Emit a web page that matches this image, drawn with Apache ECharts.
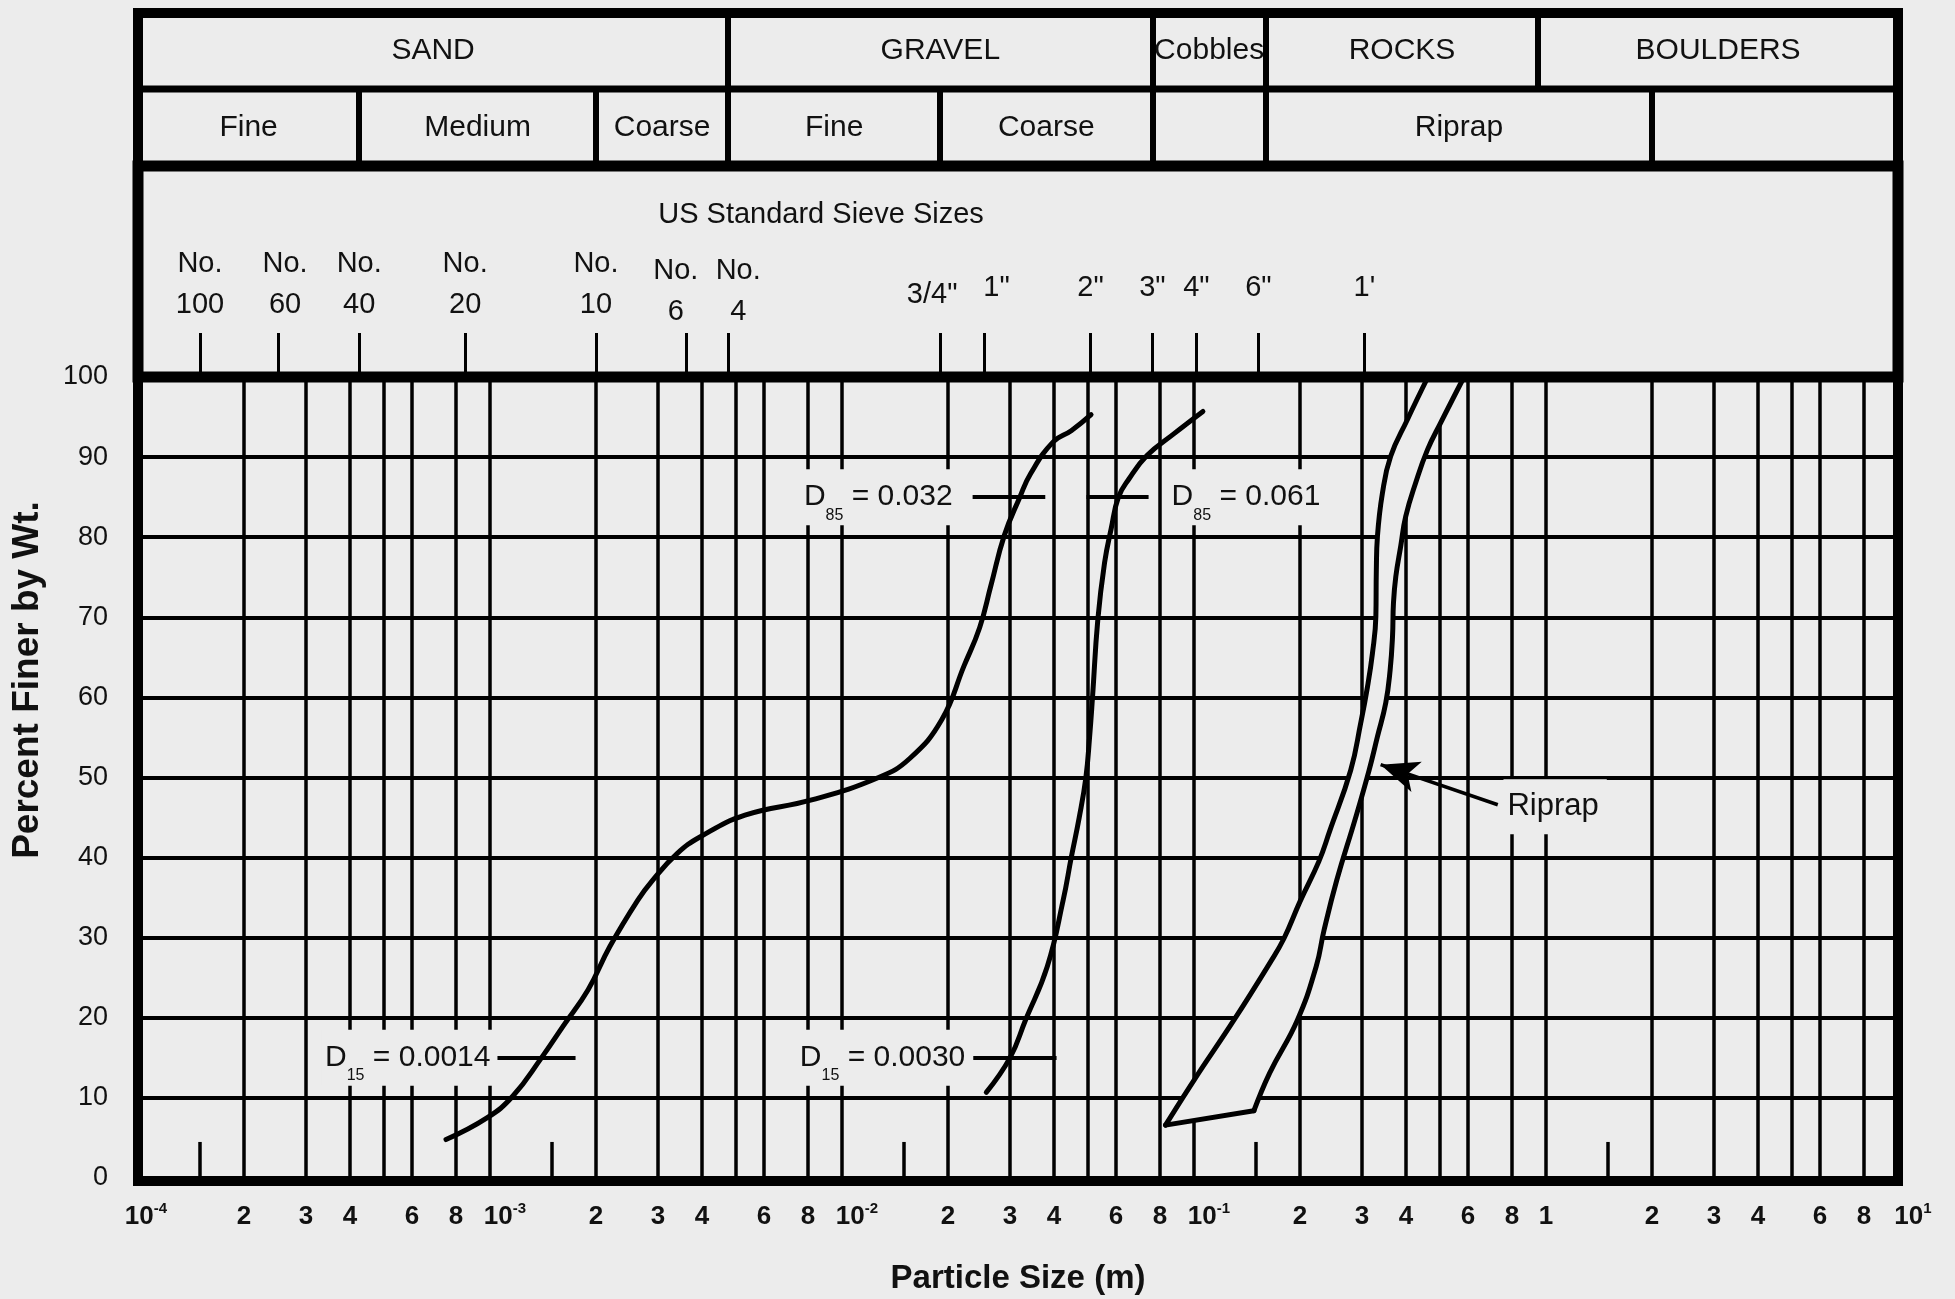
<!DOCTYPE html>
<html>
<head>
<meta charset="utf-8">
<title>Gradation Curves</title>
<script src="https://cdn.jsdelivr.net/npm/echarts@6/dist/echarts.min.js"></script>
<style>
  html, body { margin: 0; padding: 0; background: #ececec; }
  #chart { width: 1955px; height: 1299px; }
</style>
</head>
<body>
<div id="chart"></div>
<script>
// ---------- classification header (sizes in metres) ----------
const soilClasses      = ['SAND', 'GRAVEL', 'Cobbles', 'ROCKS', 'BOULDERS'];
const soilClassBounds  = [1e-4, 0.00475, 0.0762, 0.16, 0.95, 10];
const subClasses       = ['Fine', 'Medium', 'Coarse', 'Fine', 'Coarse', '', 'Riprap', ''];
const subClassBounds   = [1e-4, 0.000425, 0.002, 0.00475, 0.019, 0.0762, 0.16, 2.0, 10];

// ---------- US standard sieve openings ----------
const sieveSizes = [0.00015, 0.00025, 0.000425, 0.00085, 0.002, 0.0036, 0.00475,
                    0.019, 0.0254, 0.0508, 0.0762, 0.1016, 0.1524, 0.3048];
const sieveNames = ['No.\n100', 'No.\n60', 'No.\n40', 'No.\n20', 'No.\n10', 'No.\n6', 'No.\n4',
                    '3/4"', '1"', '2"', '3"', '4"', '6"', "1'"];

// ---------- particle-size axis rules and labels ----------
const xGridValues = [
  2e-4, 3e-4, 4e-4, 5e-4, 6e-4, 8e-4, 1e-3,
  2e-3, 3e-3, 4e-3, 5e-3, 6e-3, 8e-3, 1e-2,
  2e-2, 3e-2, 4e-2, 5e-2, 6e-2, 8e-2, 1e-1,
  0.2, 0.3, 0.4, 0.5, 0.6, 0.8, 1,
  2, 3, 4, 5, 6, 8
];
const xShortTicks = [1.5e-4, 1.5e-3, 1.5e-2, 0.15, 1.5];
const xTickValues = [
  1e-4, 2e-4, 3e-4, 4e-4, 6e-4, 8e-4,
  1e-3, 2e-3, 3e-3, 4e-3, 6e-3, 8e-3,
  1e-2, 2e-2, 3e-2, 4e-2, 6e-2, 8e-2,
  1e-1, 0.2, 0.3, 0.4, 0.6, 0.8,
  1, 2, 3, 4, 6, 8, 10
];
const xTickLabels = [
  '10^-4', '2', '3', '4', '6', '8',
  '10^-3', '2', '3', '4', '6', '8',
  '10^-2', '2', '3', '4', '6', '8',
  '10^-1', '2', '3', '4', '6', '8',
  '1', '2', '3', '4', '6', '8', '10^1'
];

// ---------- gradation curves (size in m, percent finer by weight) ----------
const soilASize = [0.00075, 0.00098, 0.00116, 0.0014, 0.00161, 0.0019, 0.00219, 0.00263, 0.0029,
                   0.0034, 0.00396, 0.0053, 0.0082, 0.0127, 0.0156, 0.0192, 0.0222, 0.0246,
                   0.0265, 0.0289, 0.032, 0.0343, 0.0398, 0.0448, 0.051];
const soilAPct  = [4.8, 7.5, 10.2, 15, 18.9, 23.5, 28.9, 34.7, 37.2,
                   40.5, 42.6, 45.3, 47.2, 50.0, 52.4, 57.2, 63.9, 68.7,
                   74.0, 80.2, 85, 87.9, 91.9, 93.3, 95.3];

const soilBSize = [0.0257, 0.030, 0.0332, 0.0383, 0.0425, 0.0448, 0.0472, 0.0493, 0.0505, 0.0515,
                   0.0533, 0.0557, 0.0582, 0.061, 0.0654, 0.0735, 0.0876, 0.106];
const soilBPct  = [10.7, 15, 19.7, 26.4, 34.7, 40, 45, 50, 55, 60.1,
                   69.7, 76.8, 81.1, 85, 87.3, 90.2, 92.9, 95.7];

// riprap band: fine limit listed top to bottom, coarse limit bottom to top
const riprapFineSize = [0.462, 0.404, 0.362, 0.343, 0.332, 0.3296, 0.3286, 0.3213, 0.311, 0.2976,
                        0.2787, 0.2429, 0.2262, 0.200, 0.1801, 0.164, 0.1298, 0.09995, 0.083];
const riprapFinePct  = [100, 94.7, 90.1, 85.5, 80.1, 75.9, 70.1, 65.5, 61.3, 56.8,
                        50.9, 43.3, 39.5, 34.5, 29.9, 26.8, 19.7, 12.2, 6.6];
const riprapCoarseSize = [0.148, 0.164, 0.1966, 0.2224, 0.234, 0.2545, 0.287, 0.3143, 0.332,
                          0.3505, 0.3607, 0.3664, 0.3687, 0.3744, 0.3867, 0.3995, 0.4264, 0.4604,
                          0.5023, 0.585];
const riprapCoarsePct  = [8.4, 13.1, 19.7, 26.4, 30.9, 37.2, 44.8, 50.9, 55.1,
                          59.3, 63.4, 67.6, 71.8, 75.1, 78.9, 82.6, 86.8, 90.9,
                          94.3, 100];

// D-size call-outs: stated value, percent line and the span of the leader
const dCallouts = [
  { curve: 'A', sub: '15', text: '0.0014', pct: 15, span: [0.00105, 0.00175] },
  { curve: 'A', sub: '85', text: '0.032',  pct: 85, span: [0.0235, 0.0378] },
  { curve: 'B', sub: '15', text: '0.0030', pct: 15, span: [0.0236, 0.0407] },
  { curve: 'B', sub: '85', text: '0.061',  pct: 85, span: [0.0495, 0.0743] }
];
// "Riprap" pointer: from the word to the coarse limit
const riprapPointer = { text: 'Riprap', from: [0.7295, 46.6], to: [0.339, 51.6] };

// ---------- styling ----------
const PAPER = '#ececec';
const INK = '#000000';
const TEXT = '#111111';
const FONT = '"Liberation Sans", Arial, Helvetica, sans-serif';
const LEFT = 138, WIDTH = 1760;

// label placement tweaks (horizontal nudges in px, leader gaps in px)
const sieveLabelNudge = { 1: 7, 5: -10, 6: 10, 7: -8, 8: 12 };
const calloutStyle = [
  { side: 'start', gap: 3 },
  { side: 'start', gap: 16 },
  { side: 'start', gap: 4 },
  { side: 'end', gap: 19 }
];

const pairs = (xs, ys) => xs.map((x, i) => [x, ys[i]]);
const geoMid = (a, b) => Math.sqrt(a * b);

function tickRich(s) {
  const k = s.indexOf('^');
  return k < 0 ? '{n|' + s + '}' : '{n|' + s.slice(0, k) + '}{sup|' + s.slice(k + 1) + '}';
}
function nudgePadding(px) {
  if (!px) return 0;
  return px > 0 ? [0, 0, 0, 2 * px] : [0, -2 * px, 0, 0];
}

const hiddenAxis = (gridIndex, extra) => Object.assign({ gridIndex, show: false }, extra);
const logX = { type: 'log', logBase: 10, min: 1e-4, max: 10 };

const calloutRich = {
  m: { fontSize: 30, lineHeight: 52, color: TEXT, fontFamily: FONT },
  s: { fontSize: 16, lineHeight: 16, verticalAlign: 'bottom', color: TEXT, fontFamily: FONT }
};

function calloutMarkLine(curve) {
  const items = [];
  dCallouts.forEach((c, i) => {
    if (c.curve !== curve) return;
    const st = calloutStyle[i];
    items.push([
      {
        coord: [c.span[0], c.pct],
        name: '{m|D}{s|' + c.sub + '}{m| = ' + c.text + '}',
        label: { position: st.side, distance: st.gap }
      },
      { coord: [c.span[1], c.pct] }
    ]);
  });
  return {
    silent: true, symbol: 'none', precision: 12, z: 6,
    emphasis: { disabled: true },
    lineStyle: { color: INK, width: 4, type: 'solid' },
    label: {
      show: true, formatter: p => p.name, rich: calloutRich,
      backgroundColor: PAPER, padding: [2, 4, 2, 4]
    },
    data: items
  };
}

const riprapOutline = pairs(riprapFineSize, riprapFinePct).concat(pairs(riprapCoarseSize, riprapCoarsePct));
const riprapBase = [
  [riprapFineSize[riprapFineSize.length - 1], riprapFinePct[riprapFinePct.length - 1]],
  [riprapCoarseSize[0], riprapCoarsePct[0]]
];

const curveLine = { color: INK, width: 5, cap: 'round', join: 'round' };
const headerLabel = { show: true, position: 'inside', formatter: p => p.name, fontSize: 30,
                      color: TEXT, fontFamily: FONT, opacity: 1 };

const option = {
  animation: false,
  backgroundColor: PAPER,
  textStyle: { fontFamily: FONT, color: TEXT },
  grid: [
    { left: LEFT, top: 377, width: WIDTH, height: 801, show: false, outerBoundsMode: 'none' },
    { left: LEFT, top: 166, width: WIDTH, height: 211, show: true, borderColor: INK, borderWidth: 11, z: 10, outerBoundsMode: 'none' },
    { left: LEFT, top: 89, width: WIDTH, height: 77, show: true, borderColor: INK, borderWidth: 7, z: 10, outerBoundsMode: 'none' },
    { left: LEFT, top: 13, width: WIDTH, height: 76, show: false, outerBoundsMode: 'none' },
    { left: LEFT, top: 13, width: WIDTH, height: 1168, show: true, borderColor: INK, borderWidth: 10, z: 10, outerBoundsMode: 'none' }
  ],
  xAxis: [
    Object.assign({
      gridIndex: 0,
      name: 'Particle Size (m)', nameLocation: 'middle', nameGap: 84,
      nameTextStyle: { fontSize: 33, fontWeight: 'bold', color: TEXT, fontFamily: FONT },
      axisLine: { show: false }, axisTick: { show: false },
      axisLabel: { show: false }, splitLine: { show: false }
    }, logX),
    hiddenAxis(1, logX),
    hiddenAxis(2, logX),
    hiddenAxis(3, logX),
    hiddenAxis(4, { type: 'value', min: 0, max: 1 })
  ],
  yAxis: [
    {
      gridIndex: 0, type: 'value', min: 0, max: 100, interval: 10,
      axisLine: { show: false }, axisTick: { show: false },
      axisLabel: { fontSize: 27, margin: 30, color: TEXT, fontFamily: FONT, showMinLabel: true, showMaxLabel: true },
      splitLine: { show: true, lineStyle: { color: INK, width: 4 } }
    },
    hiddenAxis(1, { type: 'value', min: 0, max: 211 }),
    hiddenAxis(2, { type: 'value', min: 0, max: 1 }),
    hiddenAxis(3, { type: 'value', min: 0, max: 1 }),
    hiddenAxis(4, { type: 'value', min: 0, max: 1 })
  ],
  graphic: [
    {
      type: 'text', x: 28, y: 680, rotation: Math.PI / 2, silent: true,
      style: { text: 'Percent Finer by Wt.', fontSize: 37, fontWeight: 'bold', fontFamily: FONT,
               fill: TEXT, align: 'center', verticalAlign: 'middle' }
    },
    {
      type: 'text', x: 821, y: 215, silent: true,
      style: { text: 'US Standard Sieve Sizes', fontSize: 29, fontFamily: FONT,
               fill: TEXT, align: 'center', verticalAlign: 'middle' }
    }
  ],
  series: [
    // vertical rules of the log paper
    {
      name: 'rules', type: 'line', xAxisIndex: 0, yAxisIndex: 0, data: [], silent: true,
      markLine: {
        silent: true, symbol: 'none', precision: 12, z: 1,
        emphasis: { disabled: true },
        label: { show: false },
        lineStyle: { color: INK, width: 3.5, type: 'solid' },
        data: xGridValues.map(v => ({ xAxis: v })).concat(
          xShortTicks.map(v => [{ coord: [v, 0] }, { coord: [v, 4.5] }])
        )
      }
    },
    // particle-size tick labels along the bottom edge
    {
      name: 'sizeLabels', type: 'scatter', xAxisIndex: 0, yAxisIndex: 0, silent: true, clip: false,
      symbolSize: 1, itemStyle: { color: 'rgba(0,0,0,0)', opacity: 1 }, z: 2,
      label: {
        show: true, position: 'bottom', distance: 23, color: TEXT, opacity: 1,
        formatter: p => tickRich(p.name),
        rich: {
          n: { fontSize: 26, fontWeight: 'bold', lineHeight: 30, color: TEXT, fontFamily: FONT },
          sup: { fontSize: 15, fontWeight: 'bold', lineHeight: 22, verticalAlign: 'top', color: TEXT, fontFamily: FONT }
        }
      },
      data: xTickValues.map((v, i) => {
        const item = { name: xTickLabels[i], value: [v, 0] };
        if (xTickLabels[i].indexOf('^') >= 0) {
          item.label = { padding: [0, 0, 0, i === 0 ? 16 : 30] };
        }
        return item;
      })
    },
    // paper-coloured body of the riprap band
    {
      name: 'riprapBand', type: 'custom', xAxisIndex: 0, yAxisIndex: 0, z: 3, silent: true,
      data: riprapOutline,
      renderItem: function (params, api) {
        if (params.dataIndex !== 0) return null;
        return {
          type: 'polygon',
          shape: { points: riprapOutline.map(p => api.coord(p)) },
          style: { fill: PAPER, stroke: null }
        };
      }
    },
    {
      name: 'Soil A', type: 'line', xAxisIndex: 0, yAxisIndex: 0, z: 4, silent: true,
      data: pairs(soilASize, soilAPct), showSymbol: false, symbol: 'none', smooth: 0.45,
      lineStyle: curveLine,
      markLine: calloutMarkLine('A')
    },
    {
      name: 'Soil B', type: 'line', xAxisIndex: 0, yAxisIndex: 0, z: 4, silent: true,
      data: pairs(soilBSize, soilBPct), showSymbol: false, symbol: 'none', smooth: 0.45,
      lineStyle: curveLine,
      markLine: calloutMarkLine('B')
    },
    {
      name: 'Riprap fine limit', type: 'line', xAxisIndex: 0, yAxisIndex: 0, z: 4, silent: true,
      data: pairs(riprapFineSize, riprapFinePct), showSymbol: false, symbol: 'none', smooth: 0.45,
      lineStyle: curveLine
    },
    {
      name: 'Riprap coarse limit', type: 'line', xAxisIndex: 0, yAxisIndex: 0, z: 4, silent: true,
      data: pairs(riprapCoarseSize, riprapCoarsePct), showSymbol: false, symbol: 'none', smooth: 0.45,
      lineStyle: curveLine,
      markLine: {
        silent: true, precision: 12, z: 6,
        emphasis: { disabled: true },
        symbol: ['none', 'arrow'],
        lineStyle: { color: INK, width: 3.5, type: 'solid', curveness: 0.25 },
        label: {
          show: true, position: 'start', distance: 6, formatter: p => p.name,
          fontSize: 31, color: TEXT, fontFamily: FONT,
          backgroundColor: PAPER, padding: [12, 8, 12, 4]
        },
        data: [[
          { coord: riprapPointer.from, name: riprapPointer.text },
          { coord: riprapPointer.to, symbolSize: [24, 38] }
        ]]
      }
    },
    {
      name: 'Riprap base', type: 'line', xAxisIndex: 0, yAxisIndex: 0, z: 4, silent: true,
      data: riprapBase, showSymbol: false, symbol: 'none',
      lineStyle: curveLine
    },
    // sieve ticks and names
    {
      name: 'sieves', type: 'line', xAxisIndex: 1, yAxisIndex: 1, data: [], silent: true,
      markLine: {
        silent: true, symbol: 'none', precision: 12, z: 5,
        emphasis: { disabled: true },
        lineStyle: { color: INK, width: 3, type: 'solid' },
        label: {
          show: true, position: 'end', formatter: p => p.name,
          fontSize: 29, lineHeight: 41, color: TEXT, fontFamily: FONT, align: 'center'
        },
        data: sieveSizes.map((s, i) => {
          const twoLine = sieveNames[i].indexOf('\n') >= 0;
          const low = i === 5 || i === 6;
          const dist = twoLine ? (low ? 1 : 8) : (i === 7 ? 18 : 25);
          return [
            { coord: [s, 0], name: sieveNames[i],
              label: { distance: dist, padding: nudgePadding(sieveLabelNudge[i]) } },
            { coord: [s, 44] }
          ];
        })
      }
    },
    // sub-class dividers and names
    {
      name: 'subDividers', type: 'line', xAxisIndex: 2, yAxisIndex: 2, data: [], silent: true,
      markLine: {
        silent: true, symbol: 'none', precision: 12, z: 9,
        emphasis: { disabled: true }, label: { show: false },
        lineStyle: { color: INK, width: 6, type: 'solid' },
        data: subClassBounds.slice(1, -1).map(v => ({ xAxis: v }))
      }
    },
    {
      name: 'subNames', type: 'scatter', xAxisIndex: 2, yAxisIndex: 2, silent: true,
      symbolSize: 1, itemStyle: { color: 'rgba(0,0,0,0)', opacity: 1 },
      label: headerLabel,
      data: subClasses.map((n, i) => ({ name: n, value: [geoMid(subClassBounds[i], subClassBounds[i + 1]), 0.5] }))
        .filter(d => d.name)
    },
    // main class dividers and names
    {
      name: 'classDividers', type: 'line', xAxisIndex: 3, yAxisIndex: 3, data: [], silent: true,
      markLine: {
        silent: true, symbol: 'none', precision: 12, z: 9,
        emphasis: { disabled: true }, label: { show: false },
        lineStyle: { color: INK, width: 6, type: 'solid' },
        data: soilClassBounds.slice(1, -1).map(v => ({ xAxis: v }))
      }
    },
    {
      name: 'classNames', type: 'scatter', xAxisIndex: 3, yAxisIndex: 3, silent: true,
      symbolSize: 1, itemStyle: { color: 'rgba(0,0,0,0)', opacity: 1 },
      label: headerLabel,
      data: soilClasses.map((n, i) => ({ name: n, value: [geoMid(soilClassBounds[i], soilClassBounds[i + 1]), 0.5] }))
    }
  ]
};

const chart = echarts.init(document.getElementById('chart'), null, { renderer: 'canvas', devicePixelRatio: 1 });
chart.setOption(option);
</script>
</body>
</html>
